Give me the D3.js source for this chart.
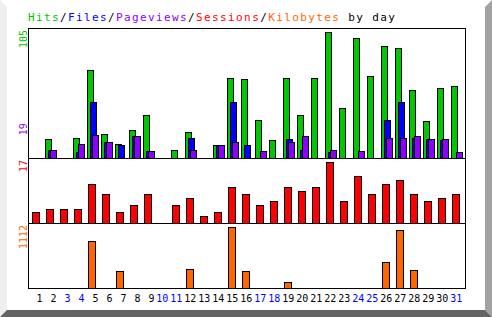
<!DOCTYPE html>
<html>
<head>
<meta charset="utf-8">
<script src="https://cdn.jsdelivr.net/npm/d3@7"></script>
<style>
  body { margin: 0; background: #fff; }
  svg { display: block; }
  text { font-family: "DejaVu Sans Mono", monospace; font-size: 10px; }
</style>
</head>
<body>
<div id="main"></div>
<script>
// data
const days = [1,2,3,4,5,6,7,8,9,10,11,12,13,14,15,16,17,18,19,20,21,22,23,24,25,26,27,28,29,30,31];
const weekendDays = [3,4,10,11,17,18,24,25,31];
const seriesNames = ["Hits", "Files", "Pageviews", "Sessions", "Kilobytes"];

const hits      = [0,16,0,17,73,20,12,23,36,0,7,22,0,11,67,66,32,15,67,36,67,105,42,100,68,93,92,57,31,58,60];
const files     = [0,7,0,5,47,13,11,18,6,0,0,17,0,11,47,11,0,0,16,7,0,5,0,0,0,32,47,17,16,15,0];
const pageviews = [0,7,0,12,19,13,0,18,6,0,0,7,0,11,13,0,6,0,13,18,0,7,0,6,0,17,17,18,16,16,5];
const sessions  = [3,4,4,4,11,8,3,5,8,0,5,7,2,3,10,8,5,6,10,9,10,17,6,13,8,11,12,8,6,7,8];
const kbytes    = [0,0,0,0,857,0,310,0,0,0,0,346,0,0,1112,310,0,0,109,0,0,0,0,0,0,474,1057,328,0,0,0];

const colors = {
  Hits: "#00c800", Files: "#0000ff", Pageviews: "#8c00ff",
  Sessions: "#ff0000", Kilobytes: "#ff6600", weekend: "#0000ff"
};

const config = {
  width: 492, height: 317,
  left: 28.5, right: 465.5,
  hits: {top: 28.5, bottom: 158.5},
  sessions: {top: 158.5, bottom: 223.5},
  kbytes: {top: 223.5, bottom: 288.5}
};

const svg = d3.select("#main")
  .append("svg")
    .attr("width", config.width)
    .attr("height", config.height);

// bevelled border round the picture
const W = config.width, H = config.height, b = 7;
svg.append("polygon")
  .attr("points", [[0,0],[b,b],[b,H-b],[0,H]].join(" "))
  .attr("fill", "#efefef");
svg.append("polygon")
  .attr("points", [[W,0],[W,H],[W-b,H-b],[W-b,b]].join(" "))
  .attr("fill", "#a2a2a2");
svg.append("polygon")
  .attr("points", [[0,H],[b,H-b],[W-b,H-b],[W,H]].join(" "))
  .attr("fill", "#646464");

// title, one coloured word per series
const title = svg.append("text")
  .attr("x", 28)
  .attr("y", 21)
  .style("font-size", "11px")
  .style("letter-spacing", "1.38px");
seriesNames.forEach((name, i) => {
  if (i > 0) title.append("tspan").attr("fill", "#000").text("/");
  title.append("tspan").attr("fill", colors[name]).text(name);
});
title.append("tspan").attr("fill", "#000").text(" by day");

// X scale: one 14px slot per day
const x = d3.scaleBand()
  .domain(days)
  .range([31, 465])
  .paddingInner(0)
  .paddingOuter(0);

// Y scales, one per panel
const yHits = d3.scaleLinear()
  .domain([0, d3.max(hits)])
  .range([158, 32]);
const ySess = d3.scaleLinear()
  .domain([0, d3.max(sessions)])
  .range([223, 162]);
const yKb = d3.scaleLinear()
  .domain([0, d3.max(kbytes)])
  .range([288, 227]);

function drawBars(values, y, bottom, offset, width, color) {
  let data = days.map((d, i) => ({day: d, v: values[i]})).filter(d => d.v > 0);
  svg.append("g")
    .selectAll("rect")
    .data(data)
    .enter()
    .append("rect")
      .attr("x", d => x(d.day) + offset + 0.5)
      .attr("y", d => Math.round(y(d.v)) + 0.5)
      .attr("width", width)
      .attr("height", d => bottom - (Math.round(y(d.v)) + 0.5))
      .attr("fill", color)
      .attr("stroke", "#000")
      .attr("stroke-width", 1);
}

drawBars(hits, yHits, config.hits.bottom, 0, 6, colors.Hits);
drawBars(files, yHits, config.hits.bottom, 3, 6, colors.Files);
drawBars(pageviews, yHits, config.hits.bottom, 5, 6, colors.Pageviews);
drawBars(sessions, ySess, config.sessions.bottom, 1, 7, colors.Sessions);
drawBars(kbytes, yKb, config.kbytes.bottom, 1, 7, colors.Kilobytes);

// panel frames
const frame = svg.append("g")
  .attr("stroke", "#000")
  .attr("stroke-width", 1)
  .attr("fill", "none");
[config.hits, config.sessions, config.kbytes].forEach(p => {
  frame.append("rect")
    .attr("x", config.left)
    .attr("y", p.top)
    .attr("width", config.right - config.left)
    .attr("height", p.bottom - p.top);
});

// max value labels, written upwards on the left
function upLabel(value, yPos, anchor, color) {
  svg.append("text")
    .attr("transform", `translate(27,${yPos}) rotate(-90)`)
    .attr("text-anchor", anchor)
    .attr("fill", color)
    .text(value);
}
upLabel(d3.max(hits), config.hits.top + 1.5, "end", colors.Hits);
upLabel(d3.max(pageviews), yHits(d3.max(pageviews)), "start", colors.Pageviews);
upLabel(d3.max(sessions), config.sessions.top + 1.5, "end", colors.Sessions);
upLabel(d3.max(kbytes), config.kbytes.top + 1.5, "end", colors.Kilobytes);

// day labels
const xAxis = svg.append("g")
  .attr("transform", "translate(0,292)")
  .call(d3.axisBottom(x).tickSize(0).tickPadding(0));
xAxis.select(".domain").remove();
xAxis.attr("font-family", null).attr("font-size", null);
xAxis.selectAll("text")
  .attr("y", 0)
  .attr("dy", "10px")
  .attr("dx", d => d < 10 ? 1.4 : -1.7)
  .attr("fill", d => weekendDays.includes(d) ? colors.weekend : "#000");
</script>
</body>
</html>
